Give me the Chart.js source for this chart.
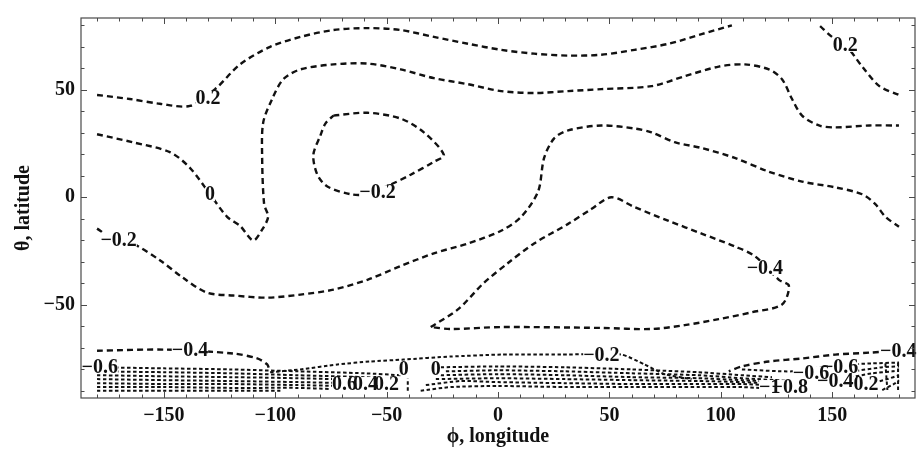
<!DOCTYPE html>
<html>
<head>
<meta charset="utf-8">
<script src="https://cdn.jsdelivr.net/npm/chart.js@4"></script>
<style>
  html, body { margin: 0; padding: 0; background: #fff; }
</style>
</head>
<body>
<canvas id="plot" width="917" height="453"></canvas>
<script>
// axis ticks (degrees)
const lonTicks = [-150, -100, -50, 0, 50, 100, 150];
const latTicks = [-50, 0, 50];

// contour lines, [longitude, latitude]
const upper02 = [[-180, 47.6], [-165.3, 45.7], [-151.8, 43.5], [-138.3, 42.5], [-127, 50.3], [-115.8, 61.8],
  [-102.3, 70], [-88.7, 74.6], [-73.9, 77.8], [-58.6, 78.7], [-43.7, 77.8], [-28.8, 74.6], [-13.5, 71.4],
  [1.4, 68.6], [16.2, 66.8], [31.5, 65.9], [46.4, 66.3], [61.3, 68.6], [76.6, 71.4], [91.4, 75.9], [105, 80]];
const upper02East = [[144.6, 79.6], [150, 74.6], [155.9, 70.9], [163.5, 60.8], [171.2, 51.7], [180, 47.6]];
const zeroLine = [[-180, 29.3], [-164, 25.6], [-147.3, 21], [-138.3, 13.7], [-129.3, 1.4], [-121.6, -9.1],
  [-115.8, -13.3], [-109.9, -20.1], [-105.9, -15.1], [-103.2, -9.1], [-105, -3.2], [-105.9, 19.7],
  [-105.4, 34.8], [-101.4, 45.7], [-96.4, 54.9], [-88.7, 59.5], [-73.9, 61.8], [-58.6, 62.2], [-43.7, 59.5],
  [-28.8, 55.4], [-13.5, 52.6], [1.4, 49.4], [16.2, 48.5], [31.5, 49.4], [46.4, 50.3], [68.9, 51.7],
  [83.8, 56.3], [99.1, 60.8], [110.8, 61.8], [121.6, 59.5], [127.5, 54.9], [132, 45.7], [136.5, 38],
  [144.1, 33.4], [151.4, 32.5], [166.7, 33.4], [180, 33.4]];
const loopMinus02 = [[-73.9, 38], [-58.6, 39.3], [-43.7, 36.6], [-33.3, 30.2], [-24.3, 19.7], [-28.8, 16.5],
  [-39.2, 10.5], [-48.2, 5.9], [-59.5, 1.4], [-66.2, 1.4], [-76.6, 5], [-81.1, 10.5], [-82.9, 19.7],
  [-79.7, 28.8], [-77.5, 34.3], [-73.9, 38]];
const minus02 = [[-180, -14.6], [-174.3, -18.3], [-164, -21.5], [-151.8, -29.3], [-141.4, -37.5],
  [-130.6, -44.4], [-118.9, -45.7], [-103.6, -46.7], [-88.7, -45.3], [-73.9, -43], [-58.6, -38.4],
  [-43.7, -32], [-28.8, -26.1], [-13.5, -21.5], [1.4, -15.6], [10.4, -9.1], [18, 2.7], [20.7, 18.3],
  [25.2, 27.4], [31.5, 31.1], [46.4, 33.4], [61.3, 32], [68.9, 30.2], [79.3, 25.6], [91.4, 22.9],
  [106.3, 18.3], [121.6, 11.9], [136.5, 7.3], [151.4, 4.6], [163.5, 1.4], [169.4, -3.2], [173.9, -9.1],
  [180, -13.7]];
const loopMinus04 = [[-30.2, -60.4], [-18, -52.2], [-6.3, -39.8], [4.5, -30.6], [16.2, -21.5], [31.5, -12.4],
  [41.9, -5.5], [50.9, 0], [61.3, -4.6], [76.6, -11], [91.4, -16.9], [106.3, -22.9], [115.3, -27.4],
  [126.1, -38.4], [130.6, -41.2], [127.5, -49.9], [114, -53.5], [99.1, -56.7], [83.8, -59.5],
  [68.9, -61.3], [46.4, -60.8], [1.4, -60.4], [-21.2, -61.3], [-30.2, -60.4]];
const minus04West = [[-180, -71.4], [-148.6, -70.9], [-118.9, -72.7], [-108.1, -75], [-103.6, -77.8], [-102.7, -80.1]];
const minus04East = [[180, -71.4], [166.7, -72.3], [151.4, -73.2], [136.5, -75], [121.6, -76.4], [109.5, -78.7], [103.6, -81]];
const minus02South = [[-102.3, -81.4], [-88.7, -80.1], [-72.1, -77.8], [-57.2, -76.4], [-42.3, -75.5],
  [-21.2, -74.1], [1.4, -73.2], [28.4, -73.2], [55.4, -73.2], [65.8, -77.8], [74.8, -82.3], [86.9, -84.6]];

// packed polar contours
const bandWest = [
  [[-180, -79.1], [-150, -79.6], [-120, -80.1], [-90, -81.0], [-60, -81.9], [-43.7, -82.8]],
  [[-180, -81.0], [-150, -81.4], [-120, -81.9], [-90, -82.8], [-60, -83.7], [-45.9, -84.6]],
  [[-180, -82.8], [-150, -83.3], [-120, -83.7], [-90, -84.2], [-60, -85.1], [-48.2, -86.0]],
  [[-180, -84.6], [-150, -85.1], [-120, -85.5], [-90, -86.0], [-66.2, -86.5]],
  [[-180, -86.5], [-150, -86.9], [-120, -86.9], [-90, -87.4], [-70.7, -87.8]],
  [[-180, -88.3], [-150, -88.3], [-120, -88.7], [-90, -88.7], [-75.2, -89.2]],
  [[-180, -90], [-150, -90], [-120, -90], [-97.7, -90]]
];
const zeroSouth = [[-40.5, -90], [-40.5, -84.2]];
const bandEast = [
  [[-25.7, -79.1], [0, -78.7], [30, -79.1], [60, -80.1], [90, -81.4], [109.5, -82.8], [123, -83.7]],
  [[-23.4, -81.0], [0, -80.5], [30, -81.0], [60, -81.9], [90, -82.8], [109.5, -84.2], [132, -85.5]],
  [[-25.7, -82.8], [0, -82.3], [30, -82.8], [60, -83.7], [90, -84.2], [109.5, -85.1], [136.5, -86.5]],
  [[-27.9, -84.6], [0, -84.2], [30, -84.6], [60, -85.1], [90, -85.5], [109.5, -86.0], [136.5, -87.4]],
  [[-32.4, -87.4], [-16.7, -85.5], [0, -86.0], [30, -86.5], [60, -86.9], [90, -86.9], [109.5, -86.9], [136.5, -88.3]],
  [[-34.7, -90], [-21.2, -88.3], [0, -87.8], [30, -88.3], [60, -88.3], [90, -88.3], [109.5, -88.3], [132, -89.7]]
];
const bandEdge = [
  [[109.5, -80.1], [132, -81.0], [150, -78.2], [168, -77.3], [180, -76.9]],
  [[136.5, -83.3], [159, -81.0], [172.5, -79.1], [180, -78.7]],
  [[150, -85.5], [168, -81.9], [177, -81.0], [180, -80.5]],
  [[163.5, -87.8], [174.8, -84.6], [180, -82.8]],
  [[172.5, -89.7], [178.4, -86.5], [180, -85.1]],
  [[173.9, -77.3], [174.8, -89.7]],
  [[179.6, -76.9], [179.6, -89.7]]
];

// contour labels: text, longitude, latitude
const contourLabels = [
  ['0.2', -130.2, 46.2], ['0', -129.3, 1.4], ['\u22120.2', -170.3, -19.7], ['\u22120.2', -54.1, 2.3],
  ['0.2', 155.9, 70.9], ['\u22120.4', 119.8, -32.9], ['\u22120.4', -138.3, -70.9], ['\u22120.2', 46.4, -73.2],
  ['\u22120.4', 179.7, -71.4], ['\u22120.6', -178.8, -78.7], ['0', -42.3, -79.6], ['0', -27.9, -79.6],
  ['0.6', -68.9, -86.9], ['0.4', -59.5, -86.9], ['0.2', -50.0, -86.9],
  ['\u22120.6', 140.5, -81.9], ['\u22120.6', 153.6, -79.1], ['\u22121', 122, -88.3], ['\u22120.8', 131, -88.3],
  ['\u22120.4', 151.4, -85.5], ['\u22120.2', 162.6, -86.9]
];

const serif = "'Liberation Serif', 'Times New Roman', serif";

function contour(points, dense) {
  return {
    data: points.map(p => ({ x: p[0], y: p[1] })),
    showLine: true,
    pointRadius: 0,
    borderColor: '#111',
    borderWidth: dense ? 2 : 2.4,
    borderDash: dense ? [3.5, 2.5] : [6, 4],
    tension: dense ? 0.2 : 0.3,
    fill: false
  };
}

const datasets = [
  contour(upper02), contour(upper02East), contour(zeroLine), contour(loopMinus02), contour(minus02),
  contour(loopMinus04), contour(minus04West), contour(minus04East), contour(minus02South, true),
  contour(zeroSouth, true)
];
bandWest.concat(bandEast, bandEdge).forEach(l => datasets.push(contour(l, true)));

function signed(v) {
  return v < 0 ? '\u2212' + Math.abs(v) : String(v);
}

// inward frame ticks, like a framed contour plot
const frameTicks = {
  id: 'frameTicks',
  afterDraw(chart) {
    const { ctx, chartArea: a, scales } = chart;
    ctx.save();
    ctx.strokeStyle = '#4a4a4a';
    ctx.lineWidth = 1.2;
    ctx.strokeRect(a.left, a.top, a.right - a.left, a.bottom - a.top);
    ctx.lineWidth = 1;
    for (let v = -180; v <= 180; v += 10) {
      const px = Math.round(scales.x.getPixelForValue(v)) + 0.5;
      const len = lonTicks.includes(v) ? 6 : 3.5;
      ctx.beginPath();
      ctx.moveTo(px, a.bottom); ctx.lineTo(px, a.bottom - len);
      ctx.moveTo(px, a.top); ctx.lineTo(px, a.top + len);
      ctx.stroke();
    }
    for (let v = -90; v <= 80; v += 10) {
      const py = Math.round(scales.y.getPixelForValue(v)) + 0.5;
      const len = latTicks.includes(v) ? 6 : 3.5;
      ctx.beginPath();
      ctx.moveTo(a.left, py); ctx.lineTo(a.left + len, py);
      ctx.moveTo(a.right, py); ctx.lineTo(a.right - len, py);
      ctx.stroke();
    }
    ctx.restore();
  }
};

const levelLabels = {
  id: 'levelLabels',
  afterDatasetsDraw(chart) {
    const { ctx, scales } = chart;
    ctx.save();
    ctx.font = 'bold 20px ' + serif;
    ctx.textAlign = 'center';
    ctx.textBaseline = 'middle';
    const placed = contourLabels.map(([t, lon, lat]) => ({
      t, x: scales.x.getPixelForValue(lon), y: scales.y.getPixelForValue(lat)
    }));
    ctx.fillStyle = '#fff';
    placed.forEach(p => {
      const w = ctx.measureText(p.t).width;
      ctx.fillRect(p.x - w / 2, p.y - 7, w, 14);
    });
    ctx.fillStyle = '#111';
    placed.forEach(p => ctx.fillText(p.t, p.x, p.y + 1));
    ctx.restore();
  }
};

new Chart(document.getElementById('plot').getContext('2d'), {
  type: 'scatter',
  data: { datasets },
  options: {
    responsive: false,
    animation: false,
    devicePixelRatio: 1,
    layout: { padding: { top: 11, right: 2, left: 0, bottom: 0 } },
    plugins: { legend: { display: false }, tooltip: { enabled: false } },
    scales: {
      x: {
        type: 'linear',
        min: -187.2,
        max: 187.2,
        afterBuildTicks: s => { s.ticks = lonTicks.map(v => ({ value: v })); },
        afterFit: s => { s.height = 55; },
        grid: { display: false, drawTicks: false },
        border: { display: false },
        ticks: {
          padding: 6,
          color: '#111',
          maxRotation: 0,
          font: { family: serif, size: 20, weight: 'bold' },
          callback: v => signed(v)
        },
        title: {
          display: true,
          text: '\u03d5, longitude',
          color: '#111',
          padding: { top: 0, bottom: 4 },
          font: { family: serif, size: 20, weight: 'bold' }
        }
      },
      y: {
        type: 'linear',
        min: -93.4,
        max: 83.4,
        afterBuildTicks: s => { s.ticks = latTicks.map(v => ({ value: v })); },
        afterFit: s => { s.width = 81; },
        grid: { display: false, drawTicks: false },
        border: { display: false },
        ticks: {
          padding: 6,
          color: '#111',
          font: { family: serif, size: 20, weight: 'bold' },
          callback: v => signed(v)
        },
        title: {
          display: true,
          text: '\u03b8, latitude',
          color: '#111',
          padding: { top: 12, bottom: 0 },
          font: { family: serif, size: 20, weight: 'bold' }
        }
      }
    }
  },
  plugins: [frameTicks, levelLabels]
});
</script>
</body>
</html>
